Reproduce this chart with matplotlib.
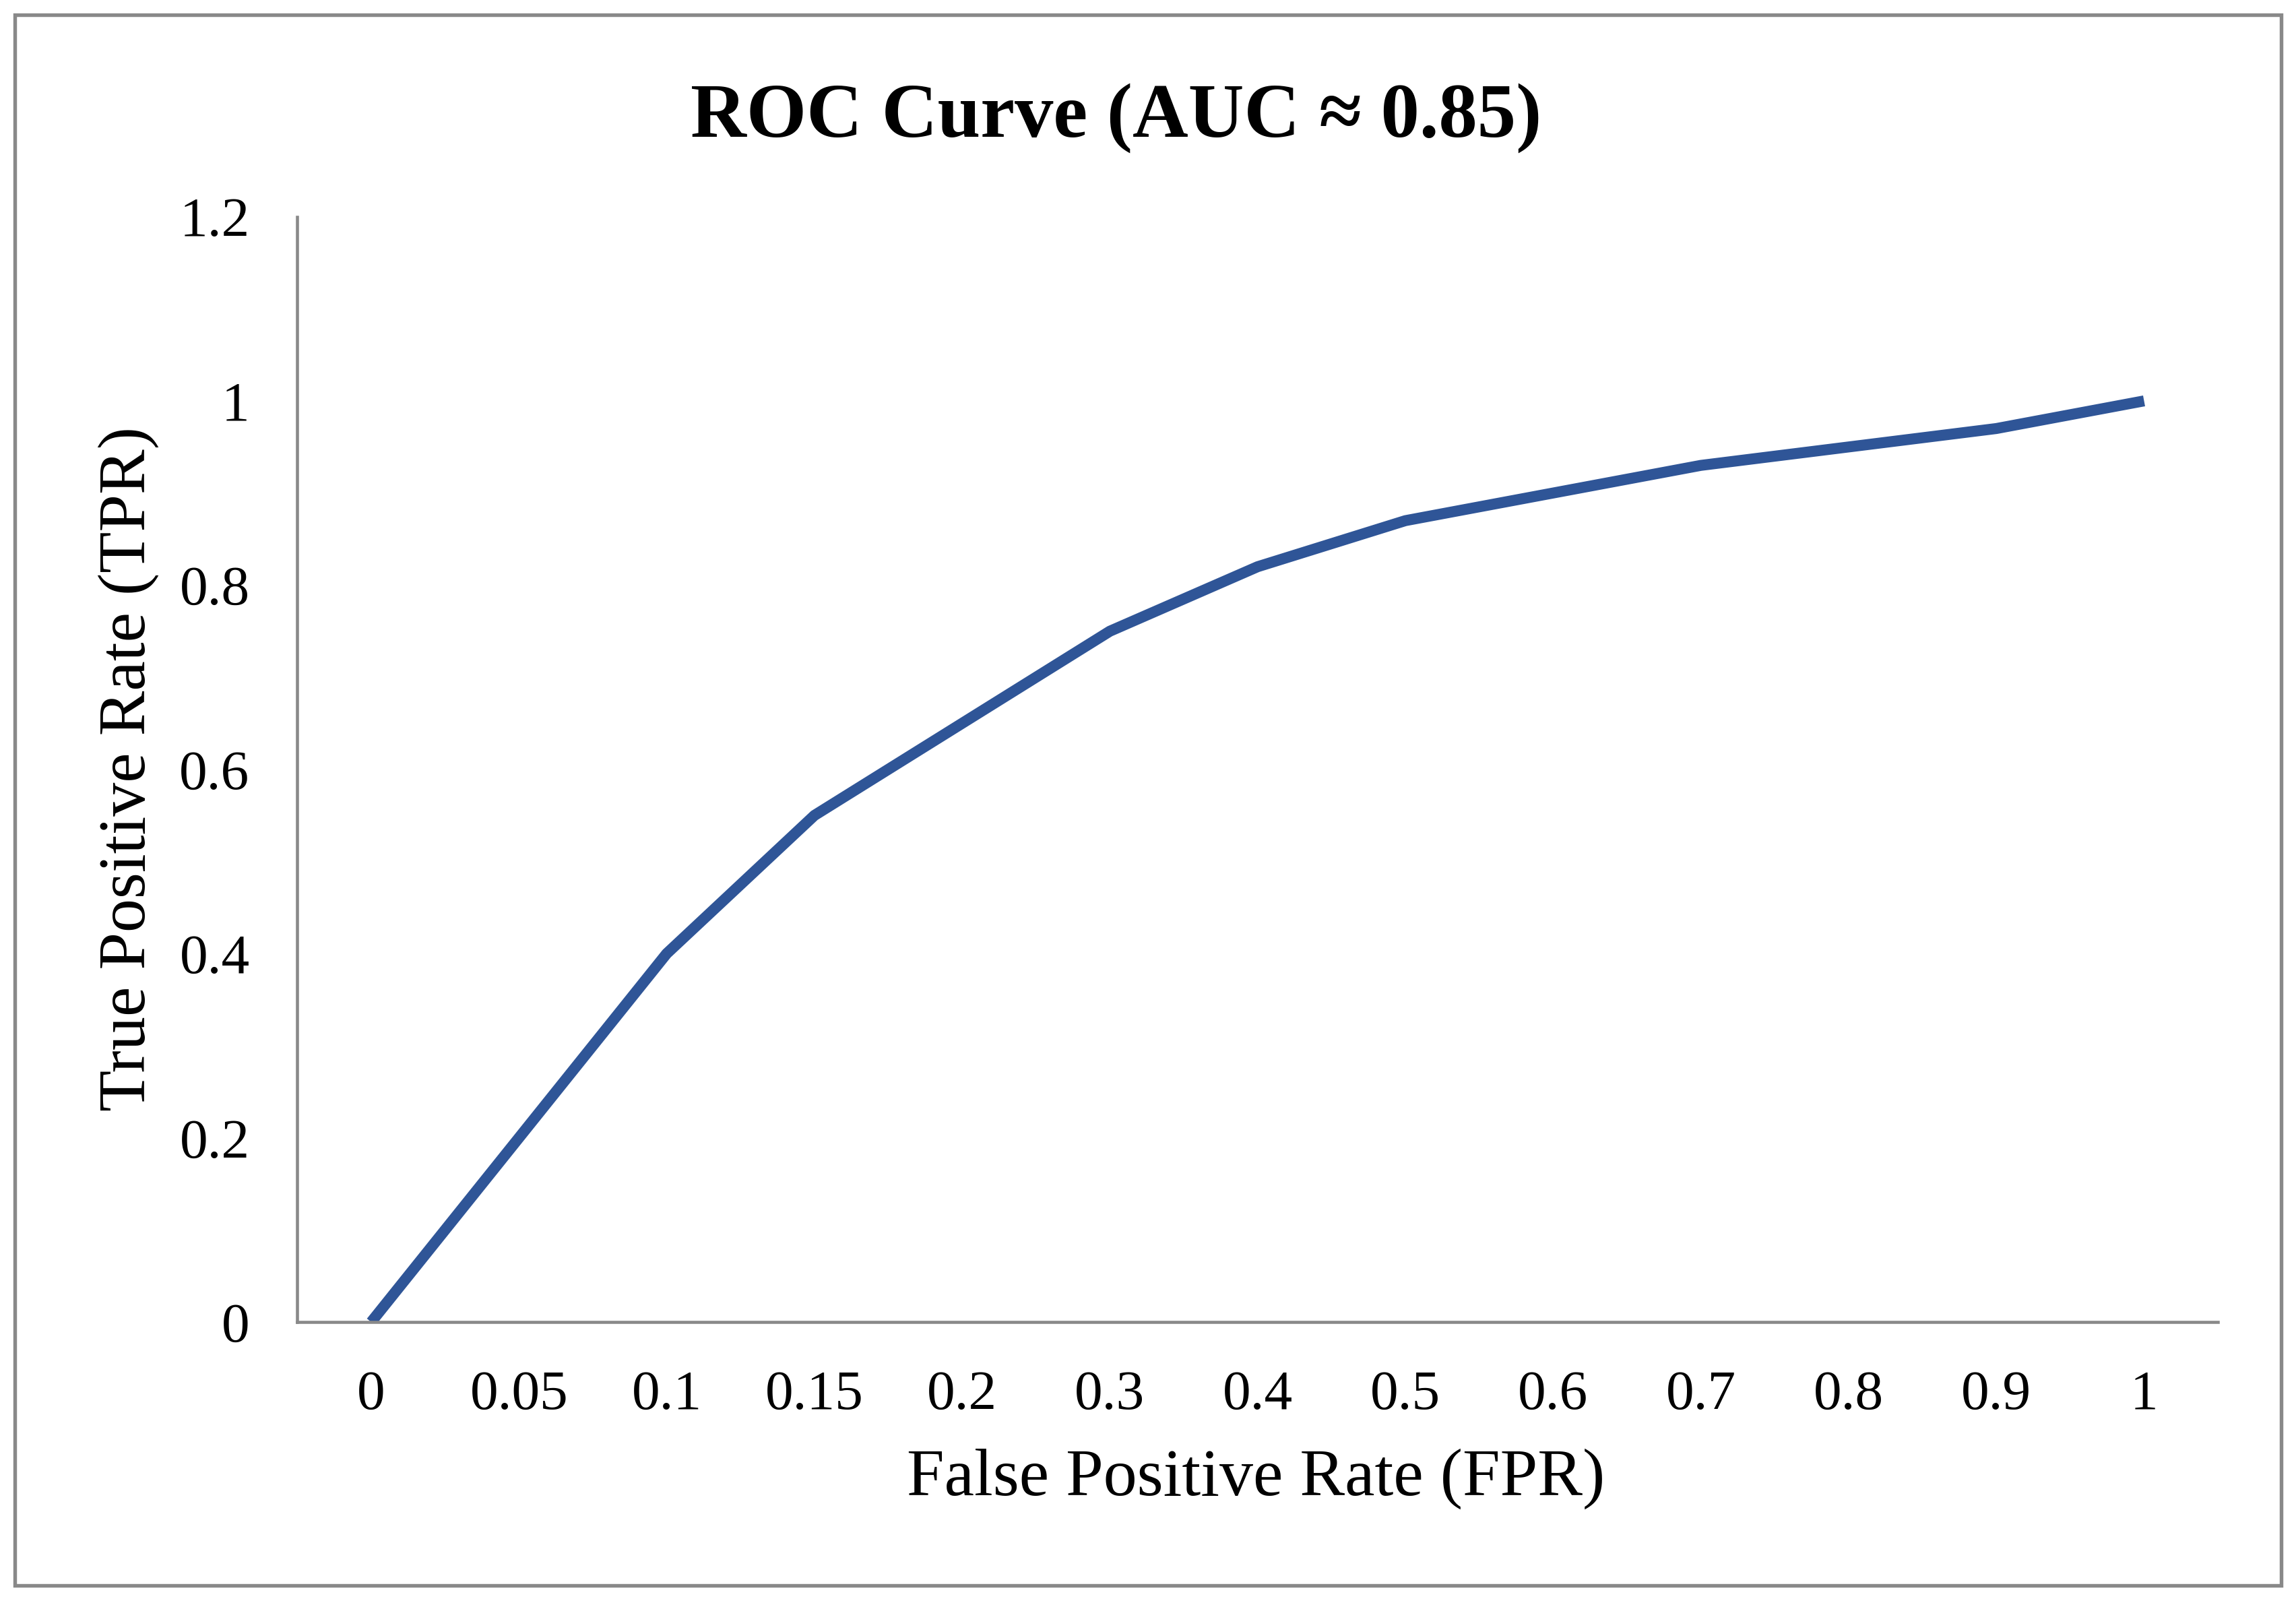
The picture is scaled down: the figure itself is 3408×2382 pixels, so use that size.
import matplotlib.pyplot as plt
from matplotlib.patches import Rectangle

# ROC points, x axis is a category axis (evenly spaced labels)
fpr_labels = ["0", "0.05", "0.1", "0.15", "0.2", "0.3", "0.4",
              "0.5", "0.6", "0.7", "0.8", "0.9", "1"]
tpr = [0, 0.2, 0.4, 0.55, 0.65, 0.75, 0.82, 0.87, 0.9, 0.93, 0.95, 0.97, 1.0]
y_ticks = [0, 0.2, 0.4, 0.6, 0.8, 1, 1.2]
y_tick_labels = ["0", "0.2", "0.4", "0.6", "0.8", "1", "1.2"]

plt.rcParams['font.family'] = ['Liberation Serif', 'DejaVu Serif']

fig = plt.figure(figsize=(11.36, 7.94), dpi=300)
ax = fig.add_axes([0.1295, 0.1763, 0.8365, 0.6887])

pos = list(range(len(fpr_labels)))
ax.plot(pos, tpr, color='#2F5597', linewidth=3.9, solid_capstyle='butt')

ax.set_xlim(-0.5, len(fpr_labels) - 0.5)
ax.set_ylim(0, 1.2)
ax.set_xticks(pos)
ax.set_xticklabels(fpr_labels)
ax.set_yticks(y_ticks)
ax.set_yticklabels(y_tick_labels)
ax.tick_params(axis='both', length=0, labelsize=20, pad=17)

for s in ['top', 'right']:
    ax.spines[s].set_visible(False)
for s in ['left', 'bottom']:
    ax.spines[s].set_color('#898989')
    ax.spines[s].set_linewidth(1.1)

fig.text(0.486, 0.915, "ROC Curve (AUC \u2248 0.85)", ha='center', va='baseline',
         fontsize=27.5, fontweight='bold', family=['Liberation Serif', 'DejaVu Serif'])
fig.text(0.056, 0.521, "True Positive Rate (TPR)", ha='center', va='center',
         rotation=90, fontsize=24)
fig.text(0.547, 0.0785, "False Positive Rate (FPR)", ha='center', va='center',
         fontsize=24)

# outer chart frame
fig.patches.append(Rectangle((22 / 3408, 1 - 2353 / 2382), (3386 - 22) / 3408,
                             (2353 - 22) / 2382, transform=fig.transFigure,
                             fill=False, edgecolor='#898989', linewidth=1.3))

fig.savefig("out.png", dpi=300)
